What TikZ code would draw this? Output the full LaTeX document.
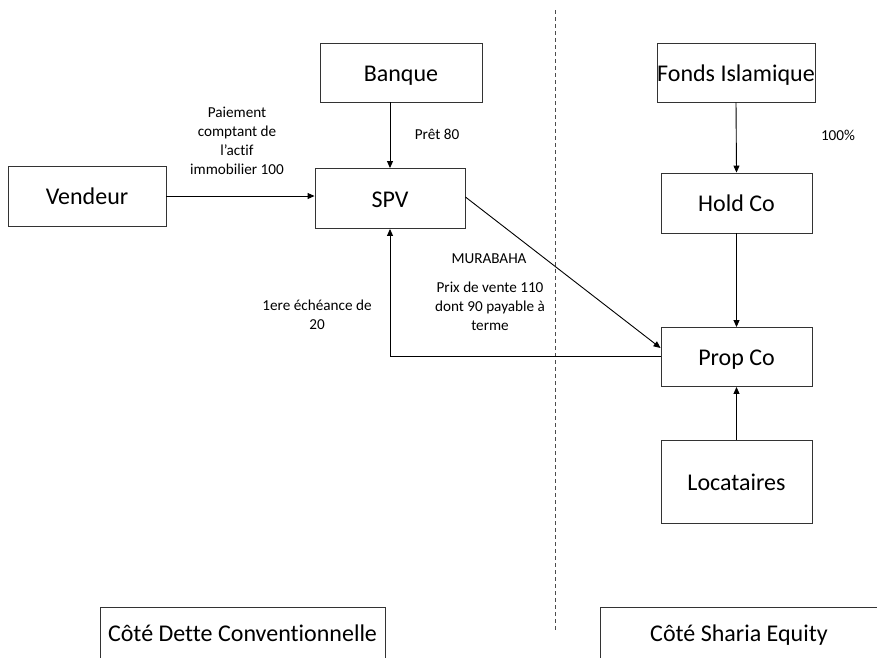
\documentclass[tikz,border=0pt]{standalone}
\usepackage{fontspec}
\setmainfont{Carlito}[Ligatures={NoCommon}]
\usetikzlibrary{arrows.meta}
\begin{document}
\begin{tikzpicture}[x=1pt,y=-1pt,
  box/.style={draw=black!80, line width=0.9pt, rectangle, inner sep=0pt, text height=20pt, text depth=3pt, font=\fontsize{24}{28}\selectfont},
  lbl/.style={align=center, inner sep=0pt, font=\fontsize{15.2}{19}\selectfont},
  arr/.style={line width=0.9pt, -{Triangle[length=7pt,width=6pt]}}]
\useasboundingbox (0,0) rectangle (877,657);
\clip (0,0) rectangle (877,657);
\fill[white] (0,0) rectangle (877,657);
% dashed separator
\draw[black!70, line width=0.8pt, dash pattern=on 4pt off 3pt] (555,10) coordinate (dtop) -- (555,632) coordinate (dbot);
% boxes
\node[box, minimum width=162pt, minimum height=59pt] (banque) at (401,72.5) {Banque};
\node[box, minimum width=158pt, minimum height=60pt] (vendeur) at (87,196) {Vendeur};
\node[box, minimum width=150pt, minimum height=60pt] (spv) at (390,198.5) {SPV};
\node[box, minimum width=158pt, minimum height=59pt] (fonds) at (736,72.5) {Fonds Islamique};
\node[box, minimum width=151pt, minimum height=60pt] (hold) at (736.5,203) {Hold Co};
\node[box, minimum width=151pt, minimum height=59pt] (prop) at (736.5,357) {Prop Co};
\node[box, minimum width=151pt, minimum height=83pt] (loc) at (736.5,481.5) {Locataires};
\node[box, minimum width=285pt, minimum height=52pt] (dette) at (242.5,633) {Côté Dette Conventionnelle};
\node[box, minimum width=278pt, minimum height=52pt] (sharia) at (739,633) {Côté Sharia Equity};
% connectors
\draw[arr] (spv.north |- banque.south) -- (spv.north);
\draw[arr] (vendeur.east) -- (vendeur.east -| spv.west);
\draw[arr] ([yshift=1.5pt]spv.east) -- ([yshift=9pt]prop.west);
\draw[arr] ([yshift=1pt]prop.west) -| (spv.south);
\draw[arr] (fonds.south) -- (hold.north);
\draw[arr] (hold.south) -- (prop.north);
\draw[arr] (loc.north) -- (prop.south);
% labels
\node[lbl] (l1) at (237,141) {Paiement\\comptant de\\l’actif\\immobilier 100};
\node[lbl] (l2) at (437,134) {Prêt 80};
\node[lbl] (l3) at (489,259) {MURABAHA};
\node[lbl] (l4) at (490,306) {Prix de vente 110\\dont 90 payable à\\terme};
\node[lbl] (l5) at (317,315) {1ere échéance de\\20};
\node[lbl] (l6) at (838,135) {100\%};
\end{tikzpicture}
\end{document}
